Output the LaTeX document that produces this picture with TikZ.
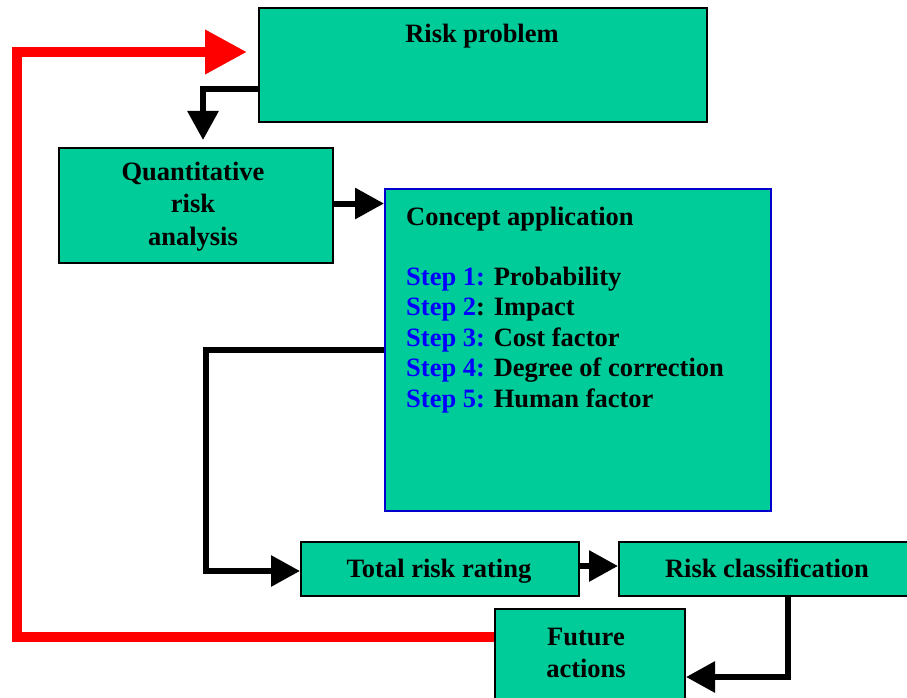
\documentclass[tikz,border=0pt]{standalone}
\usepackage{fontspec}
\setmainfont{Liberation Serif}
\usetikzlibrary{arrows.meta}
\definecolor{boxfill}{RGB}{0,204,153}
\definecolor{stepblue}{RGB}{0,0,255}
\definecolor{borderblue}{RGB}{0,0,204}
\begin{document}
\begin{tikzpicture}[x=1pt,y=-1pt,
  box/.style={draw=black, line width=2pt, fill=boxfill, rectangle, inner sep=0pt, anchor=north west},
  txt/.style={font=\bfseries\fontsize{26.5}{31}\selectfont, inner sep=0pt, anchor=base},
  txtl/.style={txt, anchor=base west},
  conn/.style={line width=6pt, draw=black, line join=miter, -{Triangle[length=29pt,width=30pt]}},
  redconn/.style={line width=10pt, draw=red, line join=miter, -{Triangle[length=42pt,width=42pt]}}
]
\useasboundingbox (0,0) rectangle (907,698);
\fill[white] (0,0) rectangle (907,698);

% boxes
\node[box, minimum width=448pt, minimum height=114pt] (rp) at (258,7) {};
\node[box, minimum width=274pt, minimum height=115pt] (qa) at (58,147) {};
\node[box, draw=borderblue, minimum width=386pt, minimum height=322pt] (ca) at (384,188) {};
\node[box, minimum width=278pt, minimum height=54pt] (tr) at (300,541) {};
\node[box, minimum width=300pt, minimum height=54pt] (rc) at (618,541) {};
\node[box, minimum width=190pt, minimum height=102pt] (fa) at (494,608) {};

% texts
\node[txt] (rpt) at (482,43) {Risk problem};
\node[txt] (qat1) at (193,180) {Quantitative};
\node[txt] (qat2) at (193,212.5) {risk};
\node[txt] (qat3) at (193,245) {analysis};
\node[txtl] (cat0) at (406,225) {Concept application};
\node[txtl] (cat1) at (406,285) {\textcolor{stepblue}{Step 1:} Probability};
\node[txtl] (cat2) at (406,315.5) {\textcolor{stepblue}{Step 2}: Impact};
\node[txtl] (cat3) at (406,346) {\textcolor{stepblue}{Step 3:} Cost factor};
\node[txtl] (cat4) at (406,376.5) {\textcolor{stepblue}{Step 4:} Degree of correction};
\node[txtl] (cat5) at (406,407) {\textcolor{stepblue}{Step 5:} Human factor};
\node[txt] (trt) at (439,577) {Total risk rating};
\node[txt] (rct) at (767,577) {Risk classification};
\node[txt] (fat1) at (586,645) {Future};
\node[txt] (fat2) at (586,677) {actions};

% connector points
\coordinate (qaIn) at (203,140);
\coordinate (trCorner) at (206,571);
\coordinate (redCorner) at (17,52);
\coordinate (rpIn) at (247,52);

% connectors
\draw[conn] ([yshift=-24pt]rp.west) -| (qaIn);
\draw[conn] ([yshift=2pt]qa.east) -- ([yshift=2pt]qa.east -| ca.west);
\draw[conn] (ca.west) -| (trCorner) -- (trCorner -| tr.west);
\draw[conn] ([yshift=3pt]tr.east) -- ([yshift=3pt]rc.west);
\draw[conn] ([xshift=21pt]rc.south west -| rct) |- ([yshift=-17pt]fa.east);
\draw[redconn] ([yshift=23pt]fa.west) -| (redCorner) -- (rpIn);
\end{tikzpicture}
\end{document}
